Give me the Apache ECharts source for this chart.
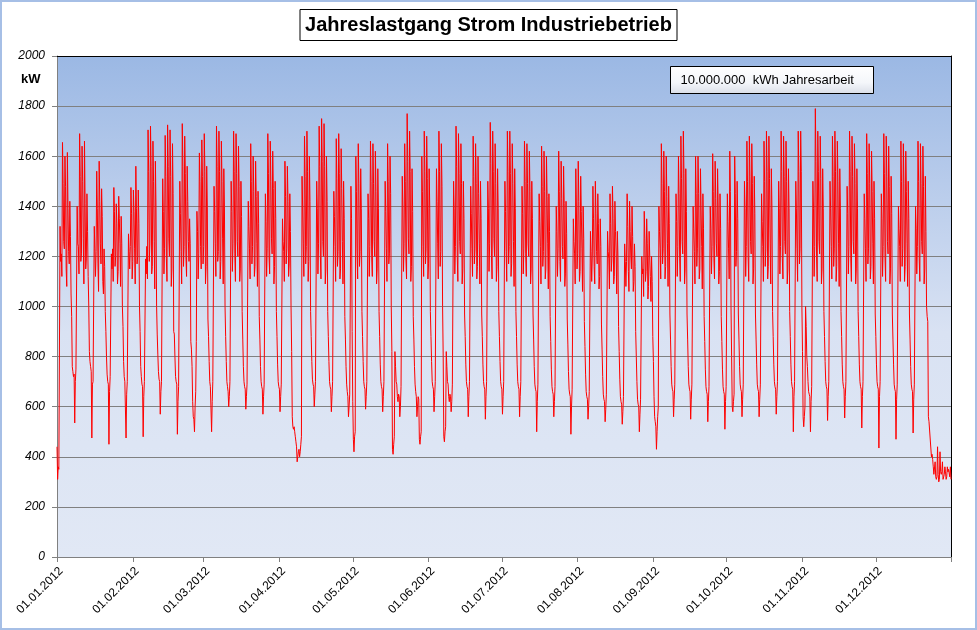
<!DOCTYPE html>
<html>
<head>
<meta charset="utf-8">
<script src="https://cdn.jsdelivr.net/npm/echarts@6/dist/echarts.min.js"></script>
<style>
html,body{margin:0;padding:0;background:#fff;}
#chart{width:977px;height:630px;}
</style>
</head>
<body>
<div id="chart"></div>
<script>
// Tick labels on the x axis (month starts)
const tickLabels = ['01.01.2012','01.02.2012','01.03.2012','01.04.2012','01.05.2012','01.06.2012',
  '01.07.2012','01.08.2012','01.09.2012','01.10.2012','01.11.2012','01.12.2012'];
const yTicks = [0,200,400,600,800,1000,1200,1400,1600,1800,2000];

// Load in kW, four readings per day (00h, 06h, 12h, 18h), one array per month
const jan = [
  440,310,360,350,
  350,1320,1180,1210, 1120,1655,1490,1260, 1230,1600,1480,1150, 1080,1615,1390,1220, 1170,1420,1280,1050, 960,760,740,720, 730,535,700,750,
  750,1400,1250,1240, 1130,1690,1520,1180, 1210,1640,1500,1270, 1090,1660,1410,1150, 1190,1450,1300,1120, 1000,820,780,760, 740,475,690,700,
  700,1320,1230,1120, 1220,1540,1390,1170, 1060,1580,1420,1250, 1170,1470,1360,1100, 1050,1230,1160,980, 900,800,730,700, 690,450,660,720,
  720,1210,1150,1230, 1100,1475,1380,1160, 1200,1410,1330,1090, 1140,1440,1350,1250, 1080,1360,1250,1000, 920,780,720,700, 700,475,650,700,
  700,1290,1220,1150, 1240,1475,1370,1110
];
const feb = [
  1180,1465,1380,1230, 1090,1560,1390,1170, 1200,1465,1330,1000, 900,760,720,690, 680,480,640,700,
  700,1190,1130,1240, 1110,1705,1540,1180, 1250,1720,1560,1130, 1160,1660,1500,1260, 1070,1580,1400,1000, 890,810,740,710, 700,570,660,700,
  700,1510,1380,1130, 1230,1683,1520,1190, 1100,1725,1560,1270, 1200,1705,1520,1080, 1150,1650,1450,900, 890,800,720,700, 690,490,620,680,
  680,1500,1370,1220, 1090,1730,1560,1160, 1240,1680,1530,1200, 1120,1560,1420,1260, 1180,1350,1250,860, 830,760,620,560, 550,500,600,660,
  860,1380,1300,1110, 1210,1613,1500,1240, 1150,1665,1520,1170
];
const mar = [
  1240,1690,1540,1090, 1160,1560,1400,950, 880,780,700,680, 680,500,620,700,
  700,1480,1380,1250, 1120,1720,1560,1180, 1220,1700,1540,1110, 1180,1660,1500,1270, 1090,1550,1400,1000, 880,780,700,680, 660,600,640,700,
  700,1500,1380,1140, 1250,1700,1540,1210, 1100,1690,1530,1260, 1200,1640,1480,1100, 1150,1500,1360,980, 870,760,700,680, 670,590,640,690,
  690,1420,1320,1230, 1110,1650,1500,1170, 1240,1600,1460,1120, 1160,1580,1440,1250, 1080,1460,1330,960, 870,760,700,680, 670,570,640,690,
  690,1450,1340,1120, 1230,1690,1530,1200, 1130,1660,1500,1270, 1210,1620,1470,1090, 1160,1500,1350,980, 880,770,700,680
];
const apr = [
  670,580,640,690,
  690,1350,1260,1220, 1100,1580,1440,1170, 1230,1560,1420,1120, 1170,1450,1300,1000, 820,560,520,510, 520,500,480,460, 440,380,400,420,
  430,400,420,450, 480,1520,1400,1250, 1120,1680,1520,1170, 1240,1700,1540,1100, 1180,1600,1420,980, 880,780,710,690, 680,600,650,700,
  700,1500,1390,1130, 1250,1720,1560,1200, 1110,1750,1580,1260, 1200,1730,1560,1090, 1150,1600,1420,980, 880,780,700,680, 670,580,640,700,
  700,1460,1360,1240, 1100,1670,1510,1160, 1220,1690,1530,1110, 1150,1630,1470,1260, 1090,1500,1350,960, 870,760,690,660, 640,560,600,650,
  650,1480,1350,900
];
const may = [
  620,470,420,480, 500,1600,1460,1230, 1110,1650,1490,1160, 1220,1550,1390,980, 880,780,700,680, 670,590,640,700,
  700,1450,1350,1120, 1240,1660,1500,1200, 1120,1650,1490,1260, 1200,1620,1460,1090, 1150,1550,1390,980, 880,770,700,680, 670,580,640,700,
  700,1500,1380,1230, 1100,1650,1500,1170, 1210,1600,1450,1000, 820,430,410,450, 480,820,760,700, 690,640,620,650, 640,560,600,680,
  680,1520,1400,1140, 1250,1650,1500,1190, 1110,1770,1580,1270, 1210,1700,1540,1100, 1160,1550,1380,960, 870,760,690,660, 640,560,600,640,
  630,470,450,480, 500,1600,1460,1240, 1120,1700,1540,1170, 1230,1680,1510,1110
];
const jun = [
  1170,1550,1390,980, 880,780,700,680, 670,580,640,700,
  700,1550,1420,1250, 1110,1700,1540,1160, 1220,1650,1480,1000, 800,480,460,500, 520,820,760,700, 690,640,620,650, 640,580,620,690,
  690,1500,1390,1130, 1240,1720,1560,1200, 1100,1690,1530,1260, 1210,1650,1490,1090, 1150,1500,1350,970, 880,770,700,680, 670,560,640,700,
  700,1480,1370,1230, 1120,1680,1520,1170, 1230,1650,1490,1110, 1160,1600,1450,1250, 1090,1500,1350,970, 880,770,700,680, 670,550,640,700,
  700,1500,1390,1140, 1250,1735,1570,1200, 1110,1700,1540,1270, 1200,1650,1490,1100, 1160,1550,1390,980, 880,780,700,680
];
const jul = [
  670,570,640,700,
  700,1500,1380,1220, 1100,1700,1540,1170, 1240,1700,1530,1120, 1170,1650,1490,1260, 1080,1550,1390,980, 880,770,700,680, 670,560,640,700,
  700,1480,1370,1130, 1230,1660,1500,1210, 1120,1650,1490,1250, 1200,1620,1460,1090, 1150,1500,1350,970, 870,760,690,670, 660,500,620,690,
  690,1450,1340,1240, 1090,1640,1480,1160, 1220,1620,1460,1110, 1150,1600,1440,1250, 1070,1450,1300,960, 860,750,680,660, 650,560,620,680,
  680,1400,1300,1120, 1230,1620,1460,1180, 1100,1580,1430,1240, 1190,1560,1410,1080, 1130,1420,1290,950, 850,740,670,650, 640,490,600,670,
  670,1350,1260,1210, 1090,1550,1400,1150
];
const aug = [
  1210,1580,1420,1100, 1140,1520,1380,1230, 1060,1400,1270,940, 840,730,660,640, 630,550,600,660,
  660,1300,1220,1100, 1200,1480,1350,1160, 1090,1500,1370,1220, 1170,1450,1330,1070, 1120,1350,1240,930, 830,720,650,630, 620,540,590,650,
  650,1300,1220,1190, 1070,1450,1330,1140, 1190,1480,1350,1090, 1120,1420,1300,1210, 1050,1300,1200,920, 820,710,640,620, 610,530,580,640,
  640,1250,1180,1080, 1180,1450,1320,1140, 1060,1420,1300,1200, 1150,1400,1280,1060, 1100,1250,1160,900, 800,700,630,610, 600,500,570,630,
  630,1200,1130,1150, 1040,1380,1270,1100, 1140,1350,1250,1030, 1080,1300,1200,1120, 1020,1200,1100,880
];
const sep = [
  780,640,560,540, 520,430,500,560,
  600,1400,1300,1230, 1110,1650,1490,1170, 1230,1620,1460,1110, 1160,1600,1440,1250, 1080,1480,1330,970, 870,760,690,670, 660,560,630,690,
  690,1450,1340,1120, 1240,1600,1450,1190, 1100,1680,1510,1260, 1210,1700,1530,1090, 1150,1550,1380,970, 870,760,690,670, 660,550,630,690,
  690,1400,1310,1220, 1090,1600,1450,1160, 1230,1600,1450,1110, 1150,1550,1400,1240, 1070,1450,1310,960, 860,750,680,660, 650,540,620,680,
  680,1400,1310,1130, 1240,1610,1460,1190, 1110,1580,1430,1250, 1200,1550,1400,1090, 1140,1450,1310,960, 860,750,680,660, 650,510,620,680
];
const oct = [
  680,1450,1340,1230, 1110,1620,1460,1000, 800,600,580,620, 650,1600,1450,1160, 1220,1500,1350,970, 870,760,690,670, 660,560,630,690,
  690,1500,1390,1120, 1240,1660,1500,1200, 1100,1680,1520,1260, 1210,1650,1490,1090, 1150,1520,1370,970, 870,770,690,670, 660,560,630,690,
  690,1450,1340,1240, 1100,1660,1500,1160, 1230,1700,1540,1110, 1160,1680,1510,1250, 1090,1550,1390,980, 880,770,700,680, 670,570,640,700,
  700,1500,1390,1130, 1240,1700,1540,1190, 1110,1680,1520,1260, 1210,1660,1500,1090, 1150,1550,1390,980, 880,770,700,680, 670,500,640,700,
  700,1500,1390,1230, 1100,1700,1540,1170, 1230,1700,1540,1000
];
const nov = [
  820,560,520,560, 600,1000,920,800, 760,700,660,650, 640,500,620,680,
  680,1500,1390,1120, 1240,1790,1580,1200, 1100,1700,1540,1260, 1210,1680,1510,1090, 1150,1550,1390,980, 880,780,700,680, 670,545,640,700,
  700,1500,1390,1240, 1110,1680,1520,1160, 1230,1700,1540,1100, 1160,1660,1500,1250, 1080,1550,1390,980, 880,770,700,680, 670,555,640,700,
  700,1480,1370,1130, 1240,1700,1540,1190, 1100,1680,1520,1260, 1210,1650,1490,1090, 1150,1550,1390,980, 880,770,700,680, 670,515,640,700,
  700,1450,1350,1230, 1100,1690,1530,1170, 1230,1650,1490,1110, 1160,1620,1460,1250, 1090,1500,1350,970
];
const dec = [
  880,770,700,680, 670,435,640,700,
  700,1450,1350,1120, 1240,1690,1530,1200, 1100,1680,1520,1260, 1210,1640,1480,1090, 1150,1520,1370,970, 870,770,690,670, 660,470,630,690,
  690,1400,1310,1240, 1100,1660,1500,1160, 1230,1650,1490,1100, 1160,1620,1460,1250, 1080,1500,1350,970, 870,760,690,670, 660,495,630,690,
  690,1400,1310,1130, 1240,1660,1500,1190, 1100,1650,1490,1260, 1210,1640,1480,1090, 1150,1520,1300,1000, 960,940,560,540, 540,540,540,400,
  410,390,360,330, 330,380,320,310, 320,440,330,300, 310,420,340,330, 340,380,310,320, 330,360,340,310, 320,360,340,350,
  350,320,360,310
];

const load = [].concat(jan, feb, mar, apr, may, jun, jul, aug, sep, oct, nov, dec);

// categories: one per reading, 6 h apart
const categories = [];
const hours = ['00', '06', '12', '18'];
for (let t = Date.UTC(2012, 0, 1); t < Date.UTC(2013, 0, 1); t += 86400000) {
  const d = new Date(t);
  const s = String(d.getUTCDate()).padStart(2, '0') + '.' + String(d.getUTCMonth() + 1).padStart(2, '0') + '.' + d.getUTCFullYear();
  hours.forEach(h => categories.push(s + ' ' + h));
}
const lastIdx = categories.length - 1;
const isMonthStart = (idx, val) => idx % 4 === 0 && tickLabels.indexOf(String(val).slice(0, 10)) >= 0;

const FONT = "'Liberation Sans', Arial, sans-serif";
const chart = echarts.init(document.getElementById('chart'), null, { renderer: 'canvas' });
chart.setOption({
  animation: false,
  backgroundColor: '#ffffff',
  title: {
    text: 'Jahreslastgang Strom Industriebetrieb',
    left: 'center',
    top: 9,
    padding: [3, 5, 3, 5],
    borderColor: '#000',
    borderWidth: 1,
    backgroundColor: '#fff',
    textStyle: {
      fontFamily: FONT,
      fontWeight: 'bold',
      fontSize: 20,
      lineHeight: 26,
      color: '#000'
    }
  },
  grid: {
    left: 57, right: 26, top: 56, bottom: 73,
    show: true,
    borderWidth: 0,
    backgroundColor: {
      type: 'linear', x: 0, y: 0, x2: 0, y2: 1,
      colorStops: [
        { offset: 0, color: '#9BB8E4' },
        { offset: 0.55, color: '#D9E2F3' },
        { offset: 1, color: '#E1E8F5' }
      ]
    }
  },
  xAxis: [{
    type: 'category',
    data: categories,
    boundaryGap: false,
    axisLine: { show: true, lineStyle: { color: '#808080', width: 1 } },
    axisTick: { show: true, length: 5, interval: (i, v) => isMonthStart(i, v) || i === lastIdx, lineStyle: { color: '#808080' } },
    axisLabel: {
      interval: isMonthStart,
      rotate: 45,
      margin: 8,
      verticalAlign: 'top',
      formatter: v => v.slice(0, 10),
      fontFamily: FONT,
      fontSize: 12,
      color: '#000'
    },
    splitLine: { show: false }
  }, {
    type: 'value', position: 'top', min: 0, max: 1,
    axisLine: { show: true, onZero: false, lineStyle: { color: '#000', width: 1 } },
    axisTick: { show: false }, axisLabel: { show: false }, splitLine: { show: false }
  }],
  yAxis: [{
    type: 'value',
    min: 0, max: 2000, interval: 200,
    axisLine: { show: true, lineStyle: { color: '#808080', width: 1 } },
    axisTick: { show: true, length: 5, lineStyle: { color: '#808080' } },
    axisLabel: {
      margin: 12,
      fontFamily: FONT,
      fontStyle: 'italic',
      fontSize: 12,
      color: '#000',
      formatter: v => (yTicks.indexOf(v) >= 0 ? String(v) : '')
    },
    splitLine: { show: true, lineStyle: { color: '#808080', width: 1 } }
  }, {
    type: 'value', position: 'right', min: 0, max: 1,
    axisLine: { show: true, onZero: false, lineStyle: { color: '#000', width: 1 } },
    axisTick: { show: false }, axisLabel: { show: false }, splitLine: { show: false }
  }],
  series: [{
    type: 'line',
    data: load,
    xAxisIndex: 0,
    yAxisIndex: 0,
    showSymbol: false,
    symbol: 'none',
    lineStyle: { color: '#FF0000', width: 1 },
    itemStyle: { color: '#FF0000' },
    z: 3
  }],
  graphic: [
    {
      type: 'rect',
      shape: { x: 1, y: 1, width: 975, height: 628 },
      style: { fill: 'none', stroke: '#A6BFE6', lineWidth: 2 },
      silent: true, z: 100
    },
    {
      type: 'text',
      left: 21, top: 73,
      style: { text: 'kW', fontFamily: FONT, fontWeight: 'bold', fontSize: 13, fill: '#000' },
      z: 100
    },
    {
      type: 'group',
      left: 670, top: 66,
      z: 100,
      children: [
        {
          type: 'rect',
          shape: { x: 0, y: 0, width: 203, height: 27 },
          style: {
            stroke: '#000', lineWidth: 1,
            fill: { type: 'linear', x: 0, y: 0, x2: 0, y2: 1,
              colorStops: [{ offset: 0, color: '#ffffff' }, { offset: 0.6, color: '#f4f6fa' }, { offset: 1, color: '#d9dee8' }] }
          }
        },
        {
          type: 'text',
          x: 10, y: 7,
          style: { text: '10.000.000  kWh Jahresarbeit', fontFamily: FONT, fontSize: 13, fill: '#000' }
        }
      ]
    }
  ]
});
</script>
</body>
</html>
